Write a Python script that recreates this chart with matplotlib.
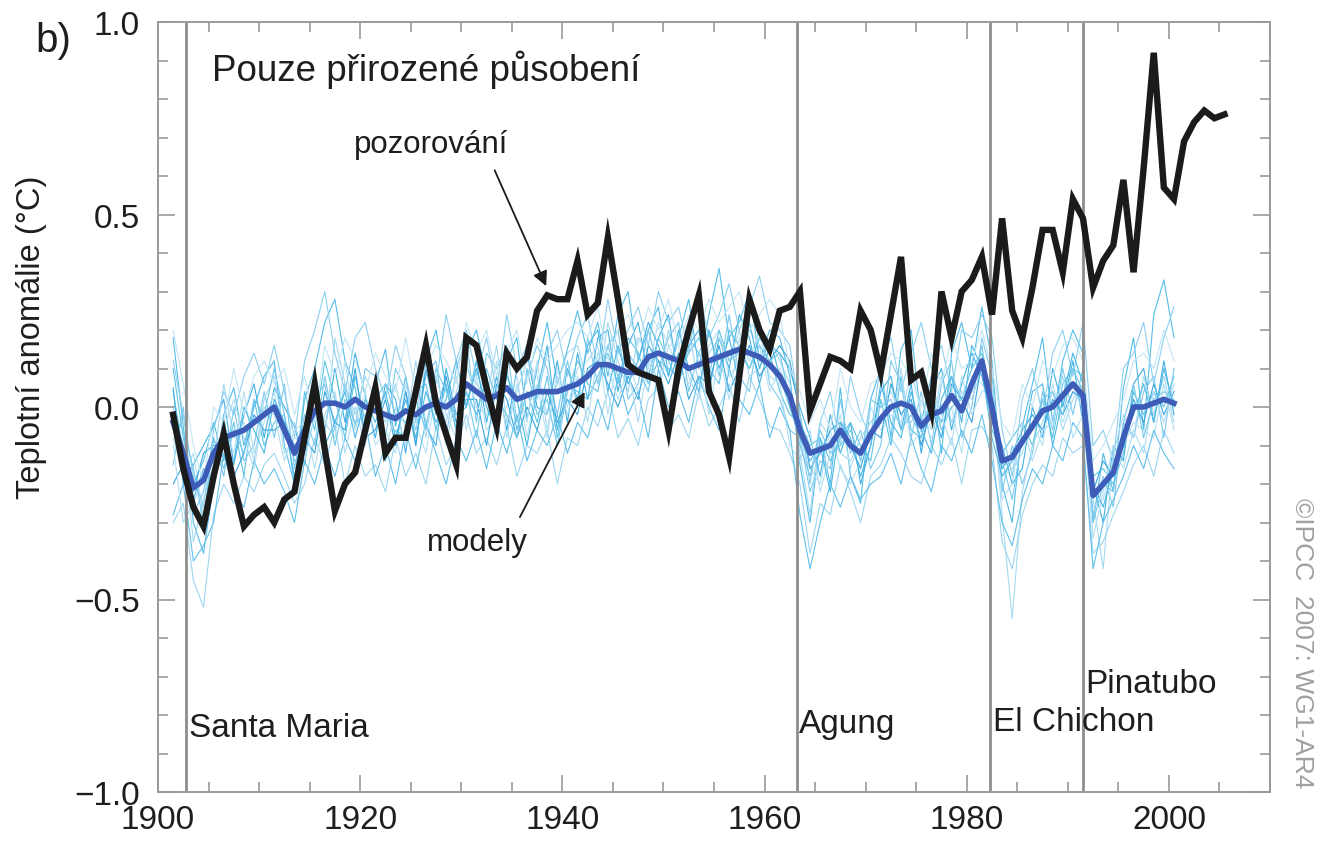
import numpy as np
import matplotlib
matplotlib.use("Agg")
import matplotlib.pyplot as plt
from matplotlib.ticker import MultipleLocator

plt.rcParams["font.family"] = ["Liberation Sans", "DejaVu Sans"]

# ---- data (anomalies in hundredths of a degree C) ----
obs_years = list(range(1901, 2006))
observed = [
    -2, -16, -26, -31, -18, -7, -20, -31, -28, -26,
    -30, -24, -22, -8, 6, -11, -27, -20, -17, -6,
    5, -12, -8, -8, 4, 16, 1, -7, -15, 18,
    16, 5, -5, 14, 10, 13, 25, 29, 28, 28,
    38, 24, 27, 44, 28, 11, 9, 8, 7, -6,
    10, 20, 29, 4, -2, -13, 8, 28, 20, 15,
    25, 26, 30, -1, 6, 13, 12, 10, 25, 20,
    9, 24, 39, 7, 9, -1, 30, 18, 30, 33,
    39, 24, 49, 25, 18, 31, 46, 46, 35, 54,
    49, 31, 38, 42, 59, 35, 62, 92, 57, 54,
    69, 74, 77, 75, 76,
]

model_years = list(range(1901, 2001))
model_mean = [
    -4, -12, -21, -19, -12, -8, -7, -6, -4, -2,
    0, -6, -12, -6, -1, 1, 1, 0, 2, 0,
    -1, -2, -3, -1, -2, 0, 1, 0, 2, 6,
    4, 2, 3, 5, 2, 3, 4, 4, 4, 5,
    6, 8, 11, 11, 10, 9, 9, 13, 14, 13,
    12, 10, 11, 12, 13, 14, 15, 14, 13, 11,
    8, 3, -6, -12, -11, -10, -6, -10, -12, -7,
    -3, 0, 1, 0, -5, -2, -1, 3, -1, 6,
    12, 0, -14, -13, -9, -5, -1, 0, 3, 6,
    3, -23, -20, -17, -8, 0, 0, 1, 2, 1,
]

run_1 = [
    18, -5, -30, -38, -20, -2, 5, -10, 0, 8,
    12, -10, -20, 2, 10, 22, 28, 12, 5, -8,
    6, 15, -5, 8, -10, 12, 20, 5, -6, 14,
    20, 8, -5, 12, 18, -3, 10, 22, 6, 15,
    25, 14, 22, 8, 24, 30, 12, 20, 26, 8,
    18, 28, 10, 24, 36, 18, 22, 30, 12, 20,
    18, 8, -15, -30, -8, -20, 5, -18, -25, 2,
    10, -8, 15, 20, -4, 8, -12, 14, 22, 10,
    26, 12, -20, -30, -5, 6, 18, -4, 12, 20,
    14, -30, -12, -22, 5, 18, -6, 24, 33, 18,
]
run_2 = [
    -30, -25, -45, -52, -28, -20, -25, -18, -22, -15,
    -12, -18, -25, -20, -8, -15, -5, -20, -10, -18,
    -15, -22, -8, -18, -12, -20, -5, -15, -10, -2,
    -12, -8, -15, -5, -18, -10, -12, -6, -20, -8,
    -10, 0, -5, 4, -8, -3, -10, 2, 5, -6,
    -2, -8, 4, -5, 0, 6, -4, 8, 2, -5,
    -6, -12, -20, -38, -25, -28, -15, -22, -30, -18,
    -15, -8, -12, -18, -20, -10, -15, -8, -20, -6,
    -5, -10, -35, -42, -28, -20, -15, -18, -8, -12,
    -10, -38, -35, -28, -22, -15, -10, -18, -6, -12,
]
run_3 = [
    5, -20, -15, -10, -5, 2, -15, -2, 6, -8,
    5, 0, -5, -15, 4, -6, 10, -4, 14, 3,
    -8, 6, 2, -12, 8, -5, -10, 10, -2, 0,
    12, -4, 8, -6, 10, 14, 0, -2, 12, -4,
    14, 2, 18, 20, 4, 16, 22, 8, 18, 24,
    6, 16, 20, 4, 18, 10, 24, 18, 6, 16,
    14, 10, 0, -8, -18, -2, -12, -4, -20, -10,
    4, 8, -6, 6, -12, 4, 10, -6, 6, 14,
    8, -4, -10, -20, -16, 0, -8, 10, 0, 12,
    -4, -20, -30, -10, -14, 6, 10, -4, 12, -2,
]
run_4 = [
    -15, 0, -28, -22, -8, -18, 0, -14, -10, 4,
    -8, 6, -16, -2, -10, 8, -6, 6, -5, 10,
    8, -8, 10, 4, -6, 8, 12, -8, 10, 18,
    -4, 14, 10, 16, -4, 8, 16, 10, -2, 12,
    0, 18, 6, 16, 20, 2, 6, 20, 10, 18,
    22, 4, 14, 20, 8, 24, 8, 4, 22, 6,
    2, -6, -8, -22, -14, -16, 2, -12, -6, -16,
    -10, 12, 6, -8, 4, -10, 6, 12, -8, 0,
    18, 8, -22, -10, -20, -12, 4, -6, 10, -2,
    10, -28, -18, -26, -4, -8, 4, 8, -8, 10,
]
run_5 = [
    -8, -18, -12, -28, -16, -4, -12, 4, -12, -4,
    4, -12, -8, -10, 6, -4, -8, 12, -6, 4,
    -10, -6, -12, 6, -4, -12, 4, -4, 8, -6,
    8, -6, -2, 0, 8, -8, 6, -8, 10, 0,
    10, 12, 16, -2, 14, 12, 4, 10, 22, 16,
    16, 8, 2, 16, 20, 8, 12, 20, 16, 4,
    10, 4, -10, -16, -20, -6, -16, -20, -14, 0,
    -6, -2, -4, 10, -2, -8, -4, 0, -12, 8,
    6, 2, -18, -16, -12, -4, -10, 6, -4, 4,
    0, -26, -24, -14, -10, -4, -6, -8, 6, -6,
]
run_6 = [
    10, -8, -20, -14, -4, -14, -4, -18, 2, -10,
    -4, -2, -20, 4, -6, 12, 2, -8, 8, -4,
    4, -14, -6, -8, 4, 6, -6, 6, -6, 4,
    -2, 8, -8, 10, -6, 4, -4, 8, -8, 6,
    4, 2, 8, 14, 6, 18, 14, 6, 12, 10,
    8, 14, 18, 10, 6, 20, 16, 10, 18, 14,
    4, -2, -4, -10, -8, -14, -8, -4, -10, -14,
    2, -10, 8, -6, -8, 2, -4, 8, 2, 10,
    14, -6, -12, -8, -4, -10, 2, -8, 6, 10,
    8, -18, -16, -20, -12, 4, -2, 4, 0, 8,
]
run_7 = [
    0, -10, -35, -24, -15, 6, -8, -4, -14, 2,
    8, -8, -4, -14, -2, -8, 18, 6, -2, 8,
    2, -4, 6, -6, 12, -4, 2, -10, 4, 10,
    6, 2, 16, -4, 4, 12, 8, -2, 6, 14,
    16, 6, 4, 22, 12, 4, 18, 14, 6, 20,
    10, 20, 6, 14, 18, 12, 20, 8, 10, 18,
    12, 6, -12, -28, -4, -8, -12, -14, -8, -4,
    0, 4, -2, -4, 2, -6, 8, -4, 4, 2,
    10, 4, -28, -55, -22, -10, -4, 4, -6, 2,
    6, -24, -42, -12, -2, -8, 8, -2, 8, -4,
]
run_8 = [
    -20, -15, -22, -12, -10, -10, -18, -12, -2, -6,
    -6, -4, -10, -8, -12, 4, -4, -6, 10, -8,
    -6, 2, -10, 4, -10, 10, -2, 8, -4, 2,
    2, -10, 6, 2, -8, 0, -6, 4, -4, 2,
    -2, 10, 12, 6, 0, 8, 2, 16, 12, 6,
    14, 2, 8, 6, 16, 4, 10, 16, 8, 12,
    16, 12, -2, -16, -12, -6, -4, -10, -16, -6,
    -8, 6, -2, 2, -10, 0, -8, 6, 2, -4,
    12, -2, -16, -12, -6, -2, -6, 2, -2, 4,
    2, -22, -14, -18, -10, 2, -4, 6, -2, 4,
]
run_9 = [
    12, -2, -18, -26, -6, 4, -2, 8, 14, 6,
    16, 4, -8, 12, 20, 30, 14, 4, 18, 22,
    10, 2, 16, 8, -4, 18, 6, 24, 12, 20,
    8, 18, 4, 24, 10, 16, 2, 14, 20, 8,
    18, 24, 10, 28, 14, 20, 26, 16, 30, 22,
    26, 14, 30, 18, 24, 32, 20, 26, 34, 22,
    20, 16, -2, -20, -4, 4, -10, 8, -2, -8,
    12, 18, 4, 14, 22, 10, 16, 4, 20, 18,
    24, 18, -6, -18, 2, 10, -2, 14, 20, 8,
    22, -10, -6, -14, 10, 14, 22, 6, 18, 26,
]
run_10 = [
    -28, -20, -40, -36, -30, -12, -22, -26, -14, -20,
    -16, -22, -30, -14, -20, -10, -18, -8, -14, -4,
    -18, -10, -20, -6, -16, -4, -12, -20, -8, -14,
    -6, -16, -4, -12, -2, -14, -6, -10, -2, -12,
    -4, -8, 2, -6, 8, -2, 4, -8, 10, 0,
    4, -4, 8, 0, -6, 10, 2, -2, 6, -8,
    0, -6, -28, -42, -30, -20, -26, -18, -24, -20,
    -18, -12, -20, -8, -16, -22, -10, -14, -6, -12,
    -2, -14, -30, -36, -24, -16, -20, -10, -14, -4,
    -8, -42, -30, -24, -18, -10, -16, -6, -12, -16,
]
run_11 = [
    -10, -30, -25, -18, -22, -6, 2, -8, -16, 0,
    -2, -14, -6, -4, -16, -2, 4, -12, 0, -10,
    4, -12, 0, -10, 6, -8, 8, -2, -8, 12,
    0, -2, 12, -8, 6, -4, 12, -6, 8, -2,
    8, -4, 14, 10, 2, 10, -4, 12, 4, 16,
    10, 6, 12, -2, 14, 2, 18, 12, 20, 8,
    6, -10, -14, -6, -22, -12, -2, -16, -8, -4,
    -4, -6, 10, -10, -6, 6, -2, -10, 8, -2,
    4, 6, -24, -20, -4, -14, -6, -4, 8, -8,
    -2, -34, -22, -10, -16, -6, -12, 4, -4, 6,
]
run_12 = [
    4, -12, -24, -16, -20, -10, -14, 0, -6, -12,
    2, -4, -18, -8, 4, -10, -4, 4, -8, 2,
    -4, 4, -8, 2, -8, 4, -4, 2, 12, 0,
    10, 0, -6, 8, 2, -10, 4, 16, -6, 10,
    2, 16, 20, 4, 16, 6, 12, 22, 16, 8,
    20, 10, 4, 20, 10, 18, 6, 22, 10, 18,
    8, 0, -8, -14, -10, -22, -4, -8, -18, -10,
    6, -4, -8, 4, -6, -12, 2, 8, -4, 16,
    10, -8, -18, -14, -10, 4, 6, -10, 2, 14,
    6, -20, -26, -16, -6, -2, 6, -4, 10, 0,
]
run_13 = [
    -2, -6, -16, -30, -8, -16, -6, -12, 2, -2,
    10, -2, -14, -12, 2, 6, -10, 2, -4, -2,
    2, 6, -2, -4, 2, -6, 10, 4, -2, 4,
    -8, 10, 2, -2, -8, 10, -2, 2, -10, 4,
    12, 6, 4, 16, 8, 14, 10, 4, 18, 12,
    6, 18, 14, 8, 20, 12, 14, 10, 16, 12,
    14, 2, -10, -18, -6, -12, -10, -6, -14, 2,
    0, 2, -6, -2, -8, 4, -6, 0, 2, 4,
    16, -2, -14, -24, -8, -6, 2, 4, -2, 10,
    4, -30, -20, -22, -4, 6, -8, 2, 4, 2,
]
run_14 = [
    20, 6, -10, -20, 0, -4, 10, -2, 8, 12,
    6, 10, -2, 8, -4, 16, 8, 18, 12, 4,
    14, 8, 4, 18, 4, 10, 16, 12, 6, 22,
    14, 20, 8, 14, 20, 6, 18, 12, 16, 20,
    22, 18, 26, 12, 20, 24, 16, 26, 20, 28,
    16, 24, 20, 28, 22, 26, 30, 20, 24, 28,
    24, 10, 4, -4, 2, -6, 10, 0, -4, 6,
    8, 14, 12, 8, 0, 14, 6, 18, 10, 12,
    20, 10, -4, -8, 6, 0, 12, 8, 16, 18,
    12, -14, -10, -4, 2, 12, 14, 10, 20, 12,
]
model_runs = [run_1, run_2, run_3, run_4, run_5, run_6, run_7,
              run_8, run_9, run_10, run_11, run_12, run_13, run_14]
run_colors = ["#55bde9", "#9dd6f1", "#44b0e3", "#7fcaee", "#b5e1f4",
              "#5fc5e6", "#a6daf0", "#3aa5dd", "#8dd0f0", "#62c0ea",
              "#b0def3", "#4db8e6", "#75c9ec", "#c2e6f6"]

volcano_names = ["Santa Maria", "Agung", "El Chichon", "Pinatubo"]
volcano_dates = [1902.8, 1963.2, 1982.3, 1991.5]
volcano_label_y = [-0.855, -0.845, -0.84, -0.74]

# ---- figure ----
W, H = 1321, 845
fig = plt.figure(figsize=(W / 100, H / 100), dpi=100)
ax = fig.add_axes([158 / W, 1 - 793 / H, (1270 - 158) / W, (793 - 23) / H])

mx = np.array(model_years) + 0.5
for run, col in zip(model_runs, run_colors):
    ax.plot(mx, np.array(run) / 100, color=col, lw=0.8, zorder=1)

for d in volcano_dates:
    ax.axvline(d, color="#8e8e8e", lw=2.0, zorder=2)

ax.plot(mx, np.array(model_mean) / 100, color="#3d5cb8", lw=4.0,
        solid_joinstyle="round", zorder=3)
ax.plot(np.array(obs_years) + 0.5, np.array(observed) / 100, color="#1b1b1b",
        lw=4.6, solid_joinstyle="miter", zorder=4)

ax.set_xlim(1900, 2010)
ax.set_ylim(-1.0, 1.0)
ax.xaxis.set_major_locator(MultipleLocator(20))
ax.xaxis.set_minor_locator(MultipleLocator(5))
ax.yaxis.set_major_locator(MultipleLocator(0.5))
ax.yaxis.set_minor_locator(MultipleLocator(0.1))
ax.set_xticks([1900, 1920, 1940, 1960, 1980, 2000])
ax.set_yticks([-1.0, -0.5, 0.0, 0.5, 1.0])
ax.set_yticklabels(["\u22121.0", "\u22120.5", "0.0", "0.5", "1.0"])

for s in ax.spines.values():
    s.set_color("#9a9a9a")
    s.set_linewidth(1.4)
ax.tick_params(which="both", direction="in", top=True, right=True,
               color="#9a9a9a", width=1.2, labelsize=24, labelcolor="#1e1e1e")
ax.tick_params(which="major", length=12)
ax.tick_params(which="minor", length=7)
ax.tick_params(axis="x", which="major", pad=9)
ax.tick_params(axis="y", which="major", pad=13)

for name, d, yl in zip(volcano_names, volcano_dates, volcano_label_y):
    ax.text(d + 0.25, yl, name, fontsize=24, color="#1e1e1e",
            ha="left", va="baseline", zorder=5)

ax.text(1905.3, 0.849, "Pouze přirozené působení", fontsize=26.5,
        color="#1e1e1e", ha="left", va="baseline")
ax.text(1927.0, 0.662, "pozorování", fontsize=22.5, color="#1e1e1e",
        ha="center", va="baseline")
ax.text(1931.6, -0.371, "modely", fontsize=22.5, color="#1e1e1e",
        ha="center", va="baseline")

arrow = dict(arrowstyle="-|>", color="#1b1b1b", lw=1.3, mutation_scale=22,
             shrinkA=0, shrinkB=0)
ax.annotate("", xy=(1938.4, 0.314), xytext=(1933.3, 0.615),
            arrowprops=arrow, zorder=6)
ax.annotate("", xy=(1942.2, 0.039), xytext=(1935.8, -0.286),
            arrowprops=arrow, zorder=6)

fig.text(32 / W, 1 - 337 / H, "Teplotní anomálie (°C)", rotation=90,
         fontsize=23.5, color="#1e1e1e", ha="center", va="center")
fig.text(35 / W, 1 - 52 / H, "b)", fontsize=29, color="#1e1e1e",
         ha="left", va="baseline")
fig.text(1302 / W, 1 - 643 / H, "©IPCC  2007: WG1-AR4", rotation=270,
         fontsize=19, color="#a0a0a0", ha="center", va="center")

fig.savefig("out.png", dpi=100)
